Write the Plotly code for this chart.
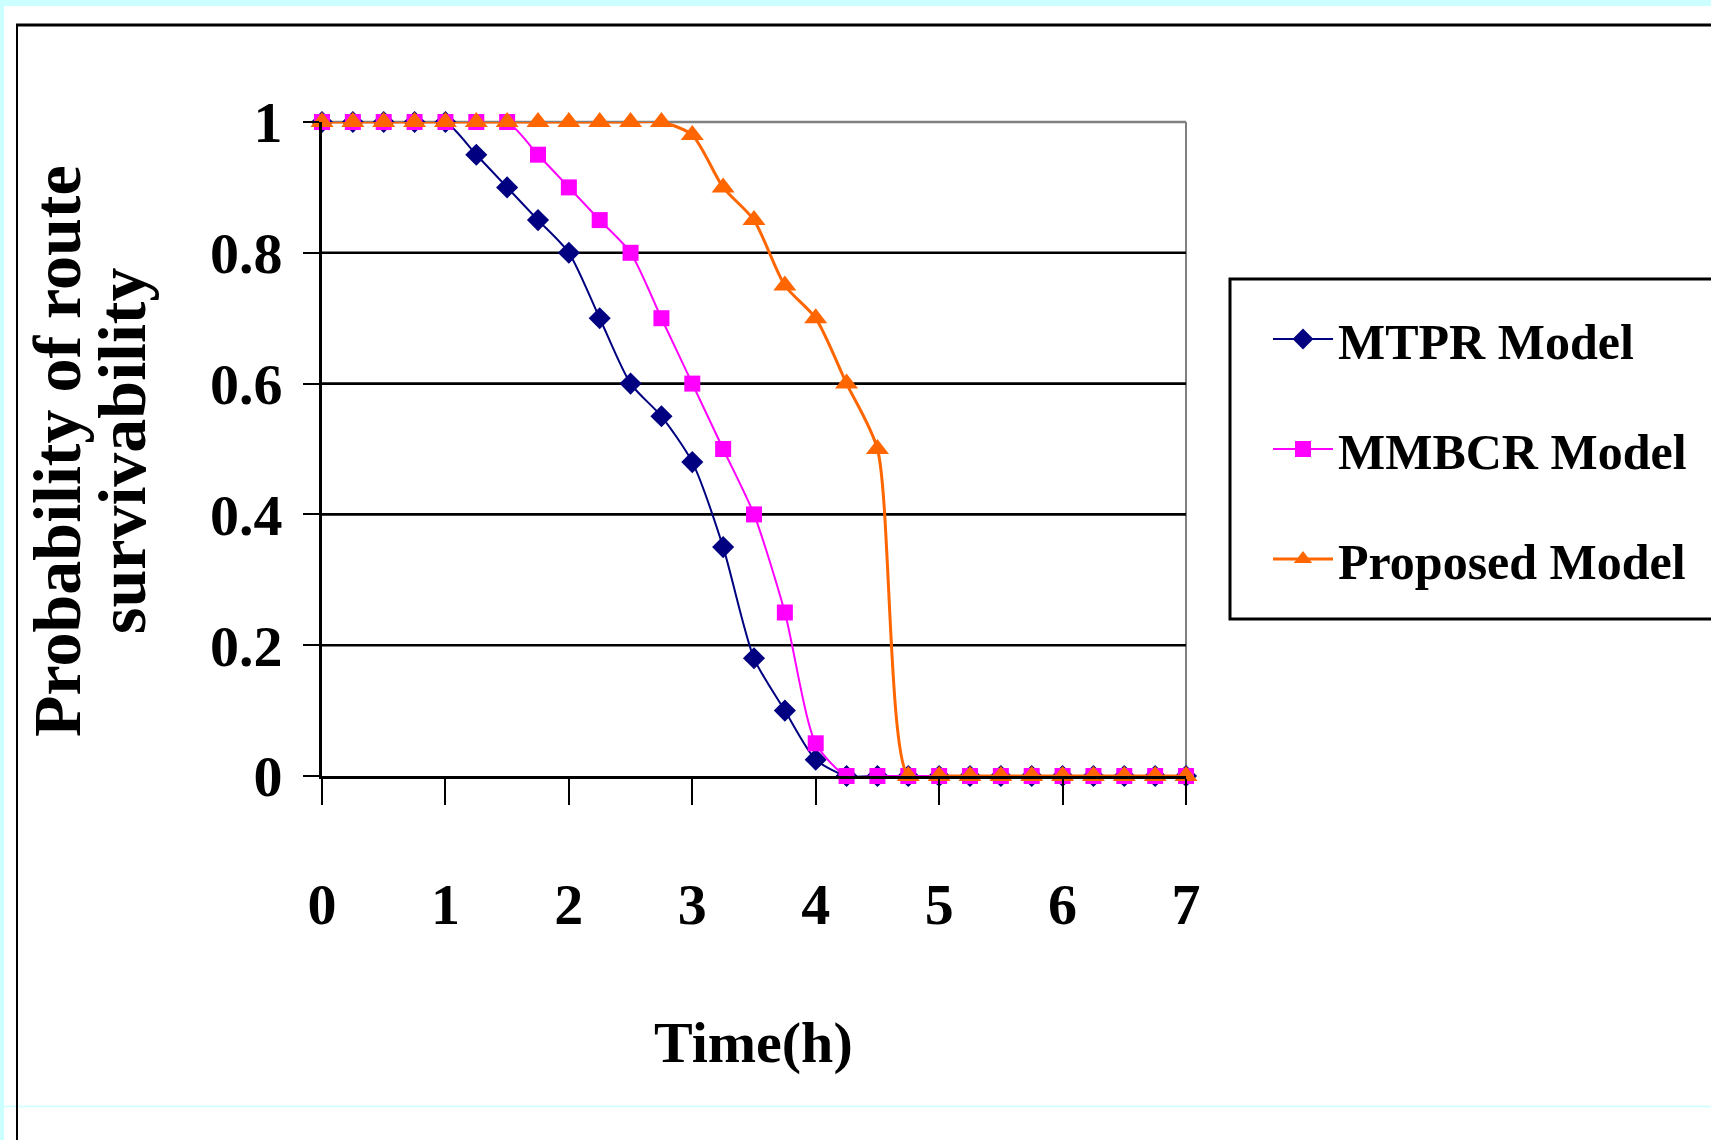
import plotly.graph_objects as go

# ---------------- data ----------------
time_h = [0, 0.25, 0.5, 0.75, 1, 1.25, 1.5, 1.75, 2, 2.25, 2.5, 2.75, 3, 3.25, 3.5,
          3.75, 4, 4.25, 4.5, 4.75, 5, 5.25, 5.5, 5.75, 6, 6.25, 6.5, 6.75, 7]
mtpr = [1, 1, 1, 1, 1, 0.95, 0.90, 0.85, 0.80, 0.70, 0.60, 0.55, 0.48, 0.35, 0.18,
        0.10, 0.025, 0, 0, 0, 0, 0, 0, 0, 0, 0, 0, 0, 0]
mmbcr = [1, 1, 1, 1, 1, 1, 1, 0.95, 0.90, 0.85, 0.80, 0.70, 0.60, 0.50, 0.40,
         0.25, 0.05, 0, 0, 0, 0, 0, 0, 0, 0, 0, 0, 0, 0]
proposed = [1, 1, 1, 1, 1, 1, 1, 1, 1, 1, 1, 1, 0.98, 0.90, 0.85,
            0.75, 0.70, 0.60, 0.50, 0, 0, 0, 0, 0, 0, 0, 0, 0, 0]
series_names = ["MTPR Model", "MMBCR Model", "Proposed Model"]
x_ticks = [0, 1, 2, 3, 4, 5, 6, 7]
y_ticks = [0, 0.2, 0.4, 0.6, 0.8, 1]
y_tick_labels = ["0", "0.2", "0.4", "0.6", "0.8", "1"]
grid_values = [0.2, 0.4, 0.6, 0.8]
x_title = "Time(h)"
y_title_lines = ["Probability of route", "survivability"]

# ---------------- layout geometry (pixels) ----------------
W, H = 1711, 1140
L, R, T, B = 322, 1186, 122, 776


def px(X):
    return (X - L) / (R - L)


def py(Y):
    return (B - Y) / (B - T)


FONT = "Liberation Serif, Times New Roman, serif"
CYAN = "#CCFFFF"

fig = go.Figure()

styles = [
    dict(color="#000080", symbol="diamond", size=17, lw=2),
    dict(color="#FF00FF", symbol="square", size=16, lw=2),
    dict(color="#FF6600", symbol="triangle-up", size=20, lw=3),
]
for name, ys, st in zip(series_names, [mtpr, mmbcr, proposed], styles):
    fig.add_trace(go.Scatter(
        x=time_h, y=ys, name=name, mode="lines+markers",
        legendgroup=name,
        line=dict(color=st["color"], width=st["lw"], shape="spline", smoothing=0.7),
        marker=dict(color=st["color"], symbol=st["symbol"], size=st["size"],
                    line=dict(width=0)),
        cliponaxis=False,
    ))

shapes = []
# page decorations
shapes.append(dict(type="rect", xref="paper", yref="paper", x0=px(0), x1=px(W),
                   y0=py(0), y1=py(6), fillcolor=CYAN, line=dict(width=0), layer="below"))
shapes.append(dict(type="rect", xref="paper", yref="paper", x0=px(0), x1=px(4),
                   y0=py(0), y1=py(H), fillcolor=CYAN, line=dict(width=0), layer="below"))
shapes.append(dict(type="line", xref="paper", yref="paper", x0=px(4), x1=px(W),
                   y0=py(1106.5), y1=py(1106.5), line=dict(color=CYAN, width=1.5), layer="below"))
shapes.append(dict(type="line", xref="paper", yref="paper", x0=px(16), x1=px(W),
                   y0=py(25), y1=py(25), line=dict(color="black", width=3), layer="below"))
shapes.append(dict(type="line", xref="paper", yref="paper", x0=px(17), x1=px(17),
                   y0=py(24), y1=py(H), line=dict(color="black", width=2), layer="below"))
# plot area border (grey top/right)
shapes.append(dict(type="line", xref="paper", yref="paper", x0=0, x1=1, y0=1, y1=1,
                   line=dict(color="#808080", width=2.5), layer="below"))
shapes.append(dict(type="line", xref="paper", yref="paper", x0=1, x1=1, y0=0, y1=1,
                   line=dict(color="#808080", width=2), layer="below"))
# gridlines
for v in grid_values:
    shapes.append(dict(type="line", xref="paper", yref="y", x0=0, x1=1, y0=v, y1=v,
                       line=dict(color="black", width=2.6), layer="below"))
# legend frame
shapes.append(dict(type="rect", xref="paper", yref="paper", x0=px(1230), x1=px(1740),
                   y0=py(279), y1=py(619), line=dict(color="black", width=3),
                   fillcolor="rgba(0,0,0,0)", layer="below"))

annotations = [
    dict(text=x_title, xref="paper", yref="paper", x=px(753), y=py(1042),
         xanchor="center", yanchor="middle", showarrow=False,
         font=dict(family=FONT, size=58, color="black", weight="bold")),
    dict(text=y_title_lines[0], xref="paper", yref="paper", x=px(57), y=py(451),
         xanchor="center", yanchor="middle", showarrow=False, textangle=-90,
         font=dict(family=FONT, size=68, color="black", weight="bold")),
    dict(text=y_title_lines[1], xref="paper", yref="paper", x=px(122), y=py(451),
         xanchor="center", yanchor="middle", showarrow=False, textangle=-90,
         font=dict(family=FONT, size=68, color="black", weight="bold")),
]

fig.update_layout(
    width=W, height=H,
    margin=dict(l=L, r=W - R, t=T, b=H - B, pad=0),
    paper_bgcolor="white", plot_bgcolor="rgba(0,0,0,0)",
    shapes=shapes, annotations=annotations,
    showlegend=True,
    legend=dict(x=px(1268), y=py(300), xanchor="left", yanchor="top",
                bgcolor="rgba(0,0,0,0)", borderwidth=0, tracegroupgap=42,
                itemwidth=60,
                font=dict(family=FONT, size=50, color="black", weight="bold")),
    xaxis=dict(range=[0, 7], tickvals=x_ticks, ticktext=[str(v) for v in x_ticks],
               showgrid=False, zeroline=False, showline=True, linecolor="black",
               linewidth=3, ticks="outside", ticklen=26, tickwidth=2, tickcolor="black",
               ticklabelstandoff=49,
               tickfont=dict(family=FONT, size=58, color="black", weight="bold")),
    yaxis=dict(range=[0, 1], tickvals=y_ticks, ticktext=y_tick_labels,
               showgrid=False, zeroline=False, showline=True, linecolor="black",
               linewidth=3, ticks="outside", ticklen=16, tickwidth=2, tickcolor="black",
               ticklabelstandoff=9,
               tickfont=dict(family=FONT, size=58, color="black", weight="bold")),
)

fig.write_html("out.html")
